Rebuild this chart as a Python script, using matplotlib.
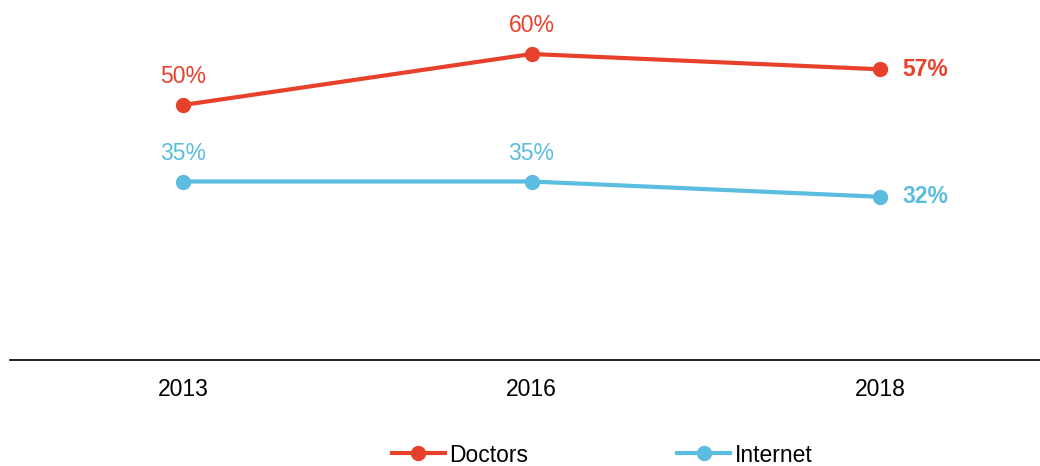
import matplotlib
matplotlib.use('Agg')
import matplotlib.pyplot as plt

years = ['2013', '2016', '2018']
doctors = [50, 60, 57]
internet = [35, 35, 32]

RED = '#E8412B'
BLUE = '#5BBDE0'

plt.rcParams['font.family'] = ['Liberation Sans', 'DejaVu Sans']

fig = plt.figure(figsize=(10.4, 4.66), dpi=100)
ax = fig.add_axes([10 / 1040, 1 - 360 / 466, 1 - 10 / 1040, 360 / 466])

x = list(range(len(years)))
series = [('Doctors', doctors, RED), ('Internet', internet, BLUE)]
for name, vals, col in series:
    ax.plot(x, vals, color=col, lw=3, marker='o', ms=10, label=name, clip_on=False)
    for i, v in enumerate(vals):
        if i == len(vals) - 1:
            ax.annotate(f'{v}%', (i, v), xytext=(16, 0), textcoords='offset points',
                        ha='left', va='center', color=col, fontsize=16.5, fontweight='bold')
        else:
            ax.annotate(f'{v}%', (i, v), xytext=(0, 20.5), textcoords='offset points',
                        ha='center', va='center', color=col, fontsize=16.5)

ax.set_xlim(-173 / 348.5, 857 / 348.5)
ax.set_ylim(0, 360 / 5.1)
ax.set_xticks(x)
ax.set_xticklabels(years, fontsize=16.5)
ax.set_yticks([])
ax.tick_params(axis='x', length=0, pad=13)
for s in ['top', 'right', 'left']:
    ax.spines[s].set_visible(False)
ax.spines['bottom'].set_linewidth(1.2)
ax.spines['bottom'].set_color('black')

fig.legend(loc='center', bbox_to_anchor=(0.579, 1 - 455 / 466), ncol=2, frameon=False,
           fontsize=16.5, handlelength=2.3, handletextpad=0.2, columnspacing=6.5)

fig.savefig('out.png', dpi=100)
